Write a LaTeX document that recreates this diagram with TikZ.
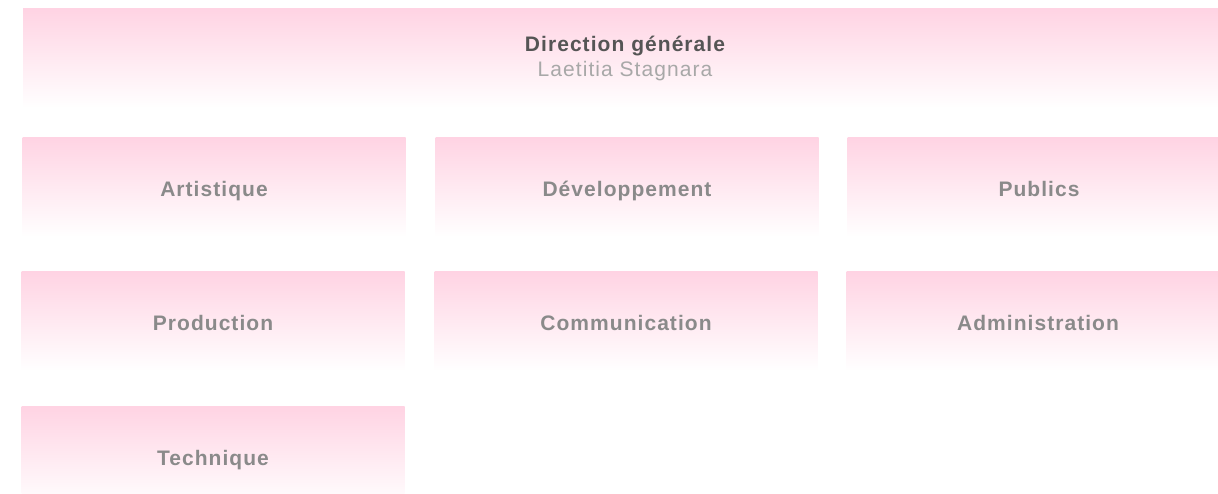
\documentclass[tikz,border=0pt]{standalone}
\usepackage{fontspec}
\setmainfont{Liberation Sans}[LetterSpace=5]
\definecolor{rose}{HTML}{FFD3E3}
\definecolor{headgray}{HTML}{555555}
\definecolor{namegray}{HTML}{A8A8A8}
\definecolor{deptgray}{HTML}{8A8A8A}
\tikzset{
  box/.style={rectangle, inner sep=0pt, minimum height=100pt,
    top color=rose, bottom color=white,
    font=\fontsize{21}{26}\selectfont\bfseries},
  pole/.style={box, minimum width=383pt, text=deptgray, text height=18pt, text depth=0pt},
  head/.style={box, minimum width=1204pt, align=center, text=headgray}
}
\begin{document}
\begin{tikzpicture}[x=1pt,y=-1pt]
    \useasboundingbox (0,0) rectangle (1218,493);
    \clip (0,0) rectangle (1218,493);
    \node[head] (DG) at (625,58) {Direction générale\\[-1pt]{\mdseries\color{namegray}Laetitia Stagnara}};

    \node[pole] (ART) at (214,187) {Artistique};
    \node[pole] (DEV) at (627,187) {Développement};
    \node[pole] (PUB) at (1039,187) {Publics};
    \node[pole] (PROD) at (213,321) {Production};
    \node[pole] (COM) at (626,321) {Communication};
    \node[pole] (ADM) at (1038,321) {Administration};
    \node[pole] (TECH) at (213,456) {Technique};
\end{tikzpicture}
\end{document}
